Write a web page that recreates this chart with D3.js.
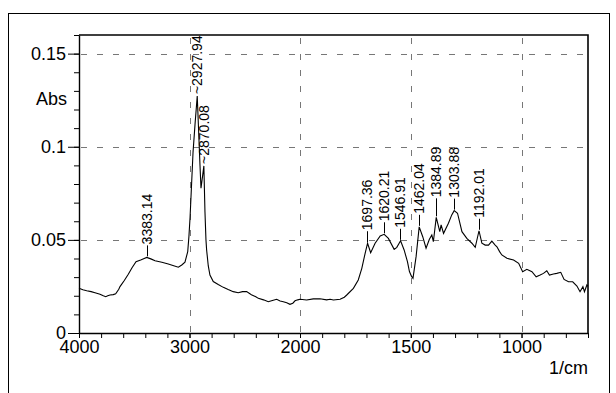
<!DOCTYPE html>
<html>
<head>
<meta charset="utf-8">
<script src="https://cdn.jsdelivr.net/npm/d3@7"></script>
<style>
  body { margin: 0; background: #fff; }
  svg { display: block; font-family: Arial, "Liberation Sans", sans-serif; }
</style>
</head>
<body>
<div class="irSpectrum"></div>
<script>
// spectrum, high to low wavenumber
const wavenumber = [
  4000, 3965, 3930, 3890, 3855, 3810, 3780, 3758, 3740, 3719, 3690, 3668, 3640, 3629,
  3590, 3554, 3520, 3484, 3442, 3410, 3387, 3350, 3312, 3250, 3192, 3150, 3101, 3070,
  3041, 3016, 3005, 2995, 2968, 2950, 2930, 2915, 2905, 2896, 2880, 2870, 2860, 2851,
  2845, 2830, 2815, 2785, 2740, 2694, 2650, 2604, 2559, 2520, 2483, 2440, 2400, 2377,
  2330, 2287, 2250, 2211, 2180, 2151, 2120, 2091, 2065, 2045, 2020, 2000, 1970, 1940,
  1910, 1880, 1864, 1849, 1819, 1800, 1789, 1759, 1737, 1721, 1706, 1695, 1681, 1661,
  1638, 1620, 1601, 1575, 1563, 1546, 1530, 1515, 1506, 1497, 1490, 1476, 1462, 1446,
  1431, 1416, 1405, 1398, 1385, 1369, 1363, 1352, 1330, 1315, 1304, 1289, 1269, 1247,
  1224, 1209, 1192, 1179, 1164, 1149, 1134, 1119, 1111, 1099, 1089, 1066, 1036, 1013,
  995, 976, 953, 934, 916, 901, 886, 874, 856, 841, 823, 808, 788, 769, 750, 736, 723,
  716, 705, 700
];
const absorbance = [
  0.0240, 0.0232, 0.0227, 0.0222, 0.0216, 0.0208, 0.0200, 0.0195, 0.0200, 0.0204, 0.0206, 0.0210, 0.0235, 0.0249,
  0.0282, 0.0315, 0.0350, 0.0383, 0.0392, 0.0400, 0.0406, 0.0398, 0.0388, 0.0380, 0.0370, 0.0362, 0.0353, 0.0365,
  0.0380, 0.0437, 0.0520, 0.0620, 0.0970, 0.1120, 0.1272, 0.1050, 0.0900, 0.0777, 0.0850, 0.0897, 0.0650, 0.0500,
  0.0446, 0.0360, 0.0311, 0.0276, 0.0260, 0.0245, 0.0233, 0.0222, 0.0216, 0.0222, 0.0222, 0.0205, 0.0195, 0.0186,
  0.0178, 0.0168, 0.0175, 0.0181, 0.0172, 0.0168, 0.0162, 0.0154, 0.0160, 0.0173, 0.0178, 0.0181, 0.0177, 0.0183,
  0.0184, 0.0178, 0.0181, 0.0177, 0.0181, 0.0192, 0.0204, 0.0240, 0.0285, 0.0347, 0.0428, 0.0482, 0.0431, 0.0482,
  0.0521, 0.0530, 0.0508, 0.0449, 0.0460, 0.0495, 0.0446, 0.0383, 0.0330, 0.0305, 0.0294, 0.0410, 0.0570, 0.0517,
  0.0455, 0.0503, 0.0526, 0.0490, 0.0621, 0.0544, 0.0580, 0.0535, 0.0589, 0.0634, 0.0657, 0.0643, 0.0544, 0.0508,
  0.0482, 0.0460, 0.0549, 0.0482, 0.0472, 0.0472, 0.0493, 0.0472, 0.0463, 0.0437, 0.0419, 0.0401, 0.0392, 0.0374,
  0.0329, 0.0342, 0.0329, 0.0302, 0.0311, 0.0320, 0.0334, 0.0311, 0.0317, 0.0320, 0.0326, 0.0288, 0.0275, 0.0275, 0.0252, 0.0222, 0.0249,
  0.0222, 0.0258, 0.0250
];

const peakWavenumber = [3383.14, 2927.94, 2870.08, 1697.36, 1620.21, 1546.91, 1462.04, 1384.89, 1303.88, 1192.01];
const peakAbs = [0.0406, 0.1272, 0.0897, 0.0482, 0.0530, 0.0495, 0.0570, 0.0621, 0.0657, 0.0549];

const xTicks = [4000, 3000, 2000, 1500, 1000];
const yTicks = [0, 0.05, 0.1, 0.15];
const xTitle = "1/cm";
const yTitle = "Abs";

const width = 616, height = 393;
const margin = {top: 35, right: 28, bottom: 60, left: 79};

// the instrument doubles the scale below 2000 1/cm
const x = d3.scaleLinear()
    .domain([4000, 2000, 700])
    .range([margin.left, 300, width - margin.right]);

const y = d3.scaleLinear()
    .domain([0, 0.16])
    .range([height - margin.bottom, margin.top]);

const svg = d3.select(".irSpectrum")
  .append("svg")
    .attr("width", width)
    .attr("height", height);

// outer frame, runs off the bottom of the picture
svg.append("rect")
    .attr("x", 8.5).attr("y", 13.5)
    .attr("width", 601).attr("height", 400)
    .attr("fill", "none")
    .attr("stroke", "#000");

// dashed grid
svg.append("g")
    .attr("stroke", "#777")
    .attr("stroke-dasharray", "6,10")
  .selectAll("line.h")
  .data(yTicks.filter(d => d > 0))
  .join("line")
    .attr("x1", x(4000) + 2).attr("x2", x(700))
    .attr("y1", d => Math.round(y(d)) + 0.5)
    .attr("y2", d => Math.round(y(d)) + 0.5);

svg.append("g")
    .attr("stroke", "#777")
    .attr("stroke-dasharray", "6,10")
  .selectAll("line")
  .data(xTicks.filter(d => d < 4000))
  .join("line")
    .attr("x1", d => Math.round(x(d)) + 0.5)
    .attr("x2", d => Math.round(x(d)) + 0.5)
    .attr("y1", y(0.16) + 3).attr("y2", y(0));

// axes
const xMinor = d3.range(4000, 2000, -200).concat(d3.range(2000, 699, -100));
const yMinor = d3.range(0, 0.1601, 0.01);

svg.append("g")
    .attr("transform", `translate(0,${y(0)})`)
    .call(d3.axisBottom(x).tickValues(xMinor).tickSize(5).tickFormat(""))
    .call(g => g.select(".domain").remove());

svg.append("g")
    .attr("transform", `translate(0,${y(0)})`)
    .call(d3.axisBottom(x).tickValues(xTicks).tickSize(5).tickSizeOuter(0).tickPadding(2).tickFormat(d => String(d)))
    .call(g => g.selectAll("text").attr("font-size", 18).attr("font-family", null).attr("fill", "#000"))
    .call(g => g.select(".domain").attr("stroke-width", 1.4));

svg.append("g")
    .attr("transform", `translate(${x(4000)},0)`)
    .call(d3.axisLeft(y).tickValues(yMinor).tickSize(5).tickFormat(""))
    .call(g => g.select(".domain").remove());

svg.append("g")
    .attr("transform", `translate(${x(4000)},0)`)
    .call(d3.axisLeft(y).tickValues(yTicks).tickSize(11).tickSizeOuter(0).tickPadding(2).tickFormat(d => String(d)))
    .call(g => g.selectAll("text").attr("font-size", 18).attr("font-family", null).attr("fill", "#000"))
    .call(g => g.select(".domain").attr("stroke-width", 1.4));

// top and right edges of the plot box
svg.append("path")
    .attr("d", `M${x(4000)},${y(0.16)}H${x(700)}V${y(0)}`)
    .attr("fill", "none")
    .attr("stroke", "#000")
    .attr("stroke-width", 1.6);

svg.append("text")
    .attr("x", x(4000) - 12)
    .attr("y", 105)
    .attr("text-anchor", "end")
    .attr("font-size", 18)
    .text(yTitle);

svg.append("text")
    .attr("x", x(700))
    .attr("y", 374)
    .attr("text-anchor", "end")
    .attr("font-size", 18)
    .text(xTitle);

// spectrum
const spectrum = wavenumber.map((w, i) => ({w, a: absorbance[i]}));

svg.append("path")
    .datum(spectrum)
    .attr("fill", "none")
    .attr("stroke", "#000")
    .attr("stroke-width", 1.1)
    .attr("d", d3.line().x(d => x(d.w)).y(d => y(d.a)));

// peak labels
const peaks = peakWavenumber.map((w, i) => ({w, a: peakAbs[i], label: w.toFixed(2)}));
const squiggle = d => d.w > 2800 && d.w < 3000;
const lift = d => d.w === 1384.89 ? 19 : 12;

svg.append("g")
    .attr("stroke", "#000")
  .selectAll("line")
  .data(peaks.filter(d => !squiggle(d)))
  .join("line")
    .attr("x1", d => Math.round(x(d.w)) + 0.5)
    .attr("x2", d => Math.round(x(d.w)) + 0.5)
    .attr("y1", d => y(d.a) - 1)
    .attr("y2", d => y(d.a) - lift(d));

svg.append("g")
    .attr("font-size", 14)
  .selectAll("text")
  .data(peaks)
  .join("text")
    .attr("transform", d => squiggle(d)
        ? `translate(${x(d.w)},${y(d.a) - 2}) rotate(-90)`
        : `translate(${x(d.w)},${y(d.a) - lift(d) - 1}) rotate(-90)`)
    .attr("dy", "0.35em")
    .text(d => squiggle(d) ? "~" + d.label : d.label);
</script>
</body>
</html>
